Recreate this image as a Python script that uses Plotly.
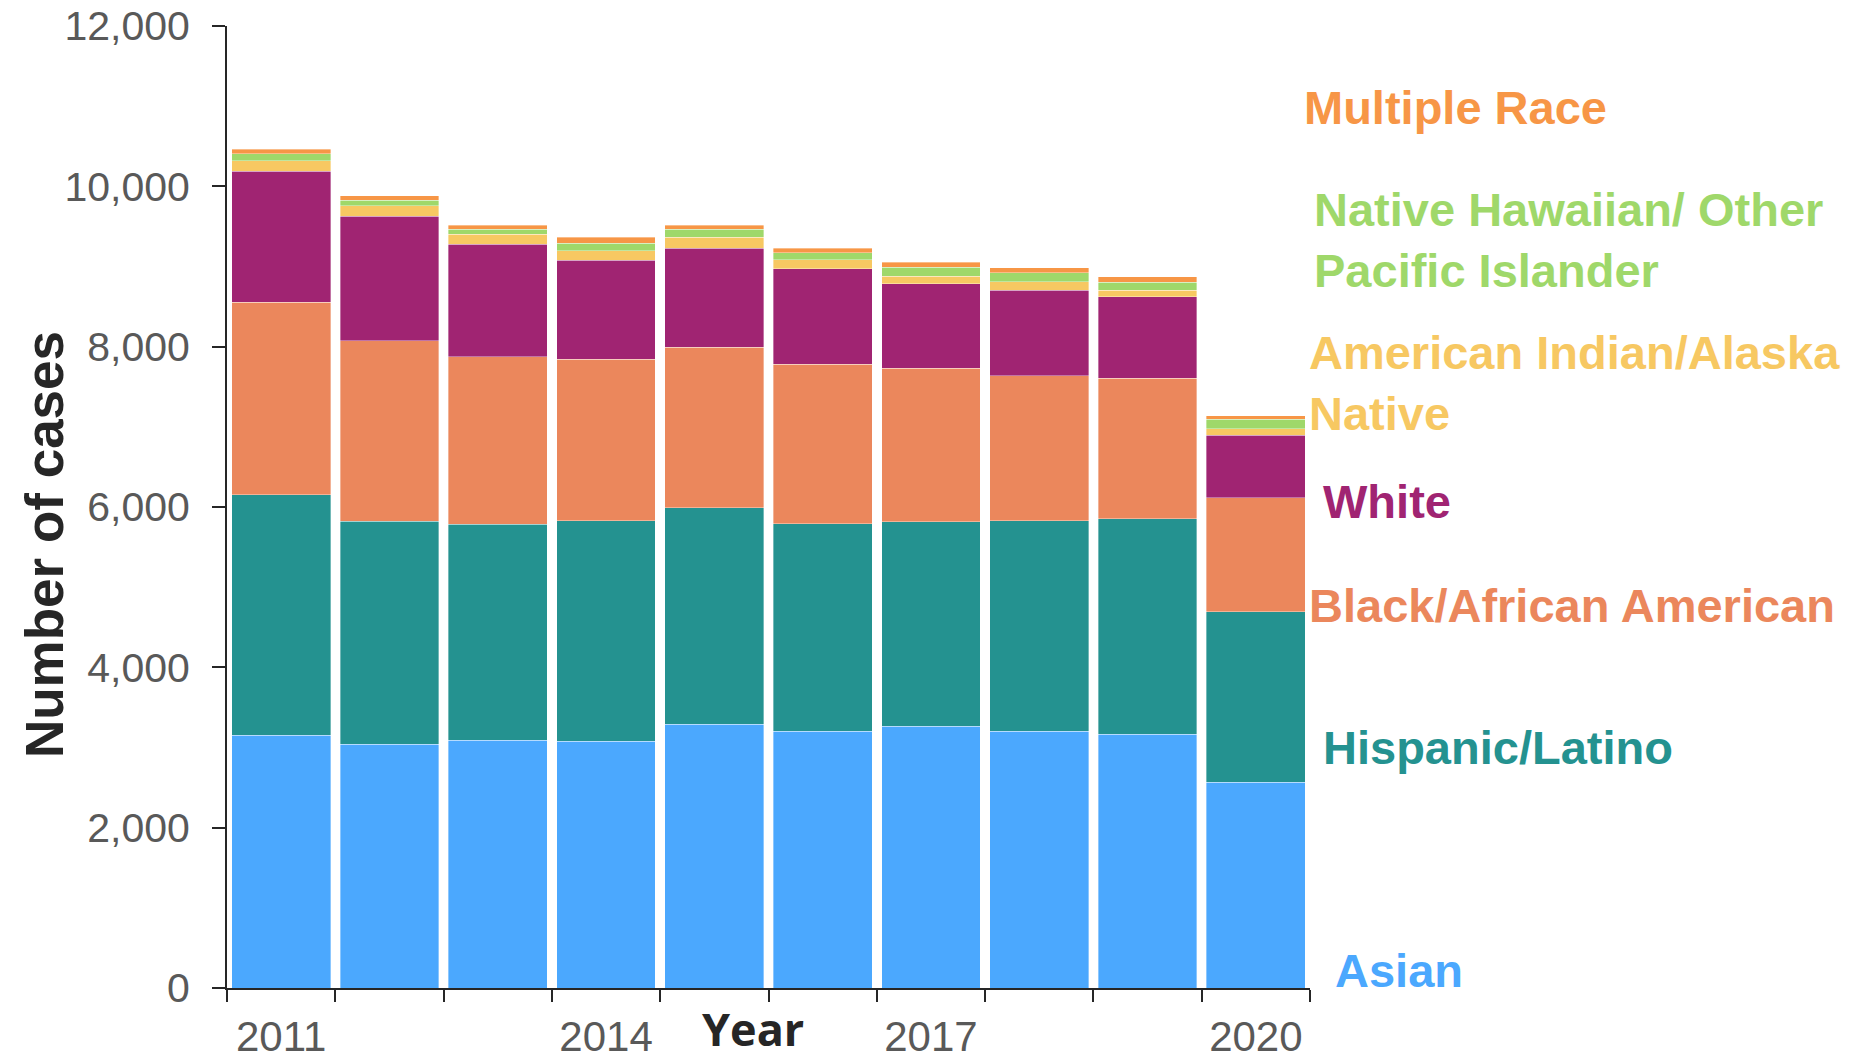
import plotly.graph_objects as go

years = [2011, 2012, 2013, 2014, 2015, 2016, 2017, 2018, 2019, 2020]
tick_text = ["2011", "", "", "2014", "", "", "2017", "", "", "2020"]

asian = [3155, 3040, 3090, 3075, 3290, 3205, 3265, 3205, 3165, 2565]
hispanic = [3000, 2785, 2695, 2755, 2700, 2585, 2550, 2625, 2690, 2130]
black = [2400, 2250, 2090, 2015, 2000, 1990, 1915, 1810, 1750, 1420]
white = [1635, 1550, 1405, 1235, 1235, 1190, 1055, 1065, 1015, 780]
aian = [130, 135, 125, 115, 140, 115, 95, 105, 85, 80]
nhpi = [85, 65, 60, 95, 100, 85, 110, 110, 100, 120]
multiple = [60, 55, 50, 75, 50, 55, 60, 65, 65, 45]

series = [
    ("Asian", asian, "#4BA8FE"),
    ("Hispanic/Latino", hispanic, "#249290"),
    ("Black/African American", black, "#EB875C"),
    ("White", white, "#A02472"),
    ("American Indian/Alaska Native", aian, "#F7C862"),
    ("Native Hawaiian/ Other Pacific Islander", nhpi, "#9FD86A"),
    ("Multiple Race", multiple, "#F79646"),
]

# label text, x (paper), y (paper), colour
labels = [
    ("Multiple Race", 0.9926, 0.9158, "#F79646"),
    ("Native Hawaiian/ Other<br>Pacific Islander", 1.0018, 0.7775, "#9FD86A"),
    ("American Indian/Alaska<br>Native", 0.9972, 0.6289, "#F7C862"),
    ("White", 1.0102, 0.5052, "#A02472"),
    ("Black/African American", 0.9972, 0.3971, "#EB875C"),
    ("Hispanic/Latino", 1.0102, 0.2505, "#249290"),
    ("Asian", 1.0212, 0.0187, "#4BA8FE"),
]

font = "Liberation Sans, Arial, sans-serif"

fig = go.Figure()
for name, vals, color in series:
    fig.add_trace(
        go.Bar(
            x=years,
            y=vals,
            name=name,
            marker=dict(color=color, line=dict(color="rgba(255,255,255,0.45)", width=0.8)),
        )
    )

for text, x, y, color in labels:
    fig.add_annotation(
        text=f"<b>{text}</b>",
        x=x,
        y=y,
        xref="paper",
        yref="paper",
        xanchor="left",
        yanchor="middle",
        align="left",
        showarrow=False,
        font=dict(family=font, size=47, color=color),
    )

fig.add_annotation(
    text="<b>Number of cases</b>",
    x=-0.168,
    y=0.4605,
    xref="paper",
    yref="paper",
    xanchor="center",
    yanchor="middle",
    textangle=-90,
    showarrow=False,
    font=dict(family=font, size=53, color="#262626"),
)
fig.add_annotation(
    text="<b>Year</b>",
    x=0.486,
    y=-0.042,
    xref="paper",
    yref="paper",
    xanchor="center",
    yanchor="middle",
    showarrow=False,
    font=dict(family="Open Sans, sans-serif", size=45, color="#262626"),
)

# the page body adds an 8 px offset, so the figure is 8 px smaller
fig.update_layout(
    barmode="stack",
    bargap=0.088,
    width=1858,
    height=1054,
    margin=dict(l=219, r=556, t=18, b=74, autoexpand=False),
    plot_bgcolor="white",
    paper_bgcolor="white",
    showlegend=False,
    font=dict(family=font, color="#595959"),
    xaxis=dict(
        type="category",
        tickvals=years,
        ticktext=tick_text,
        tickson="boundaries",
        ticks="outside",
        ticklen=12,
        tickwidth=1.5,
        tickcolor="#262626",
        showline=True,
        linecolor="#262626",
        linewidth=2,
        showgrid=False,
        tickfont=dict(size=42, color="#595959"),
        ticklabelstandoff=11,
        ticklabeloverflow="allow",
        range=[-0.5, 9.5],
    ),
    yaxis=dict(
        range=[0, 12000],
        tickvals=[0, 2000, 4000, 6000, 8000, 10000, 12000],
        tickformat=",d",
        ticks="outside",
        ticklen=13,
        tickwidth=1.5,
        tickcolor="#262626",
        showline=True,
        linecolor="#262626",
        linewidth=2,
        showgrid=False,
        zeroline=False,
        tickfont=dict(size=41, color="#595959"),
        ticklabelstandoff=14,
        ticklabeloverflow="allow",
    ),
)

fig.write_html("out.html")
